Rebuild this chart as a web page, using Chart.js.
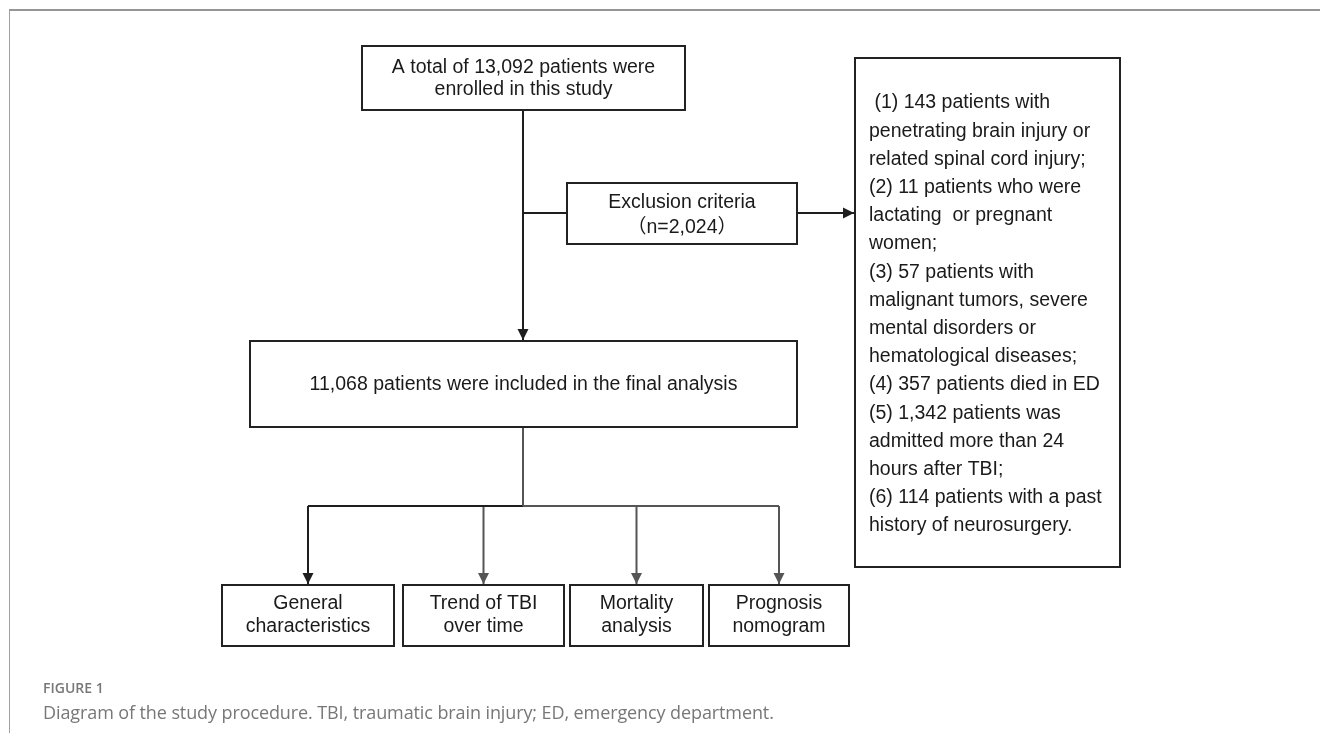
<!DOCTYPE html>
<html>
<head>
<meta charset="utf-8">
<script src="https://cdn.jsdelivr.net/npm/chart.js@4/dist/chart.umd.min.js"></script>
<style>
  body { margin: 0; background: #fff; }
  #wrap { position: relative; width: 1320px; height: 733px; overflow: hidden; }
  #frame { position: absolute; left: 9px; top: 9px; width: 1330px; height: 740px;
    border-top: 2px solid #969696; border-left: 1px solid #a0a0a0; }
  #chart { position: absolute; left: 0; top: 0; }
  .fig { position: absolute; left: 43px; top: 678px; font: 600 14px "Open Sans", sans-serif; color: #777; }
  .cap { position: absolute; left: 43px; top: 700px; font: 400 18px "Open Sans", sans-serif; color: #777; letter-spacing: -0.1px; }
</style>
</head>
<body>
<div id="wrap">
  <div id="frame"></div>
  <canvas id="chart" width="1320" height="733"></canvas>
  <div class="fig">FIGURE 1</div>
  <div class="cap">Diagram of the study procedure. TBI, traumatic brain injury; ED, emergency department.</div>
</div>
<script>
// flow chart content
const enrolledLines = ["A total of 13,092 patients were", "enrolled in this study"];
const exclusionLines = ["Exclusion criteria", "（n=2,024）"];
const reasonLines = [
  " (1) 143 patients with",
  "penetrating brain injury or",
  "related spinal cord injury;",
  "(2) 11 patients who were",
  "lactating  or pregnant",
  "women;",
  "(3) 57 patients with",
  "malignant tumors, severe",
  "mental disorders or",
  "hematological diseases;",
  "(4) 357 patients died in ED",
  "(5) 1,342 patients was",
  "admitted more than 24",
  "hours after TBI;",
  "(6) 114 patients with a past",
  "history of neurosurgery.",
];
const includedLines = ["11,068 patients were included in the final analysis"];
const outcomeLines = [
  ["General", "characteristics"],
  ["Trend of TBI", "over time"],
  ["Mortality", "analysis"],
  ["Prognosis", "nomogram"],
];

// layout (diagram units = pixels of the 1320x733 page)
const layout = {
  enrolled: { x0: 362, x1: 685, y0: 46, y1: 110, lineY: [68, 90] },
  exclusion: { x0: 567, x1: 797, y0: 183, y1: 244, lineY: [203, 228] },
  reasons: { x0: 855, x1: 1120, y0: 58, y1: 567, textX: 869, firstY: 103, step: 28.2 },
  included: { x0: 250, x1: 797, y0: 341, y1: 427, lineY: [385] },
  outcomes: { xs: [[222, 394], [403, 564], [570, 703], [709, 849]], y0: 585, y1: 646, lineY: [604, 627] },
};

const dark = "#1e1e1e";
const grey = "#555555";
const mid = 523;
const branchY = 506;

function seg(points, color, arrow) {
  return {
    data: points.map(p => ({ x: p[0], y: p[1] })),
    showLine: true,
    pointRadius: 0,
    borderWidth: 2,
    borderColor: color,
    arrow: arrow,
  };
}

const o = layout.outcomes;
const centers = o.xs.map(b => (b[0] + b[1]) / 2);

const datasets = [
  seg([[mid, layout.enrolled.y1], [mid, layout.included.y0 - 1]], dark, true),
  seg([[mid, 213], [layout.exclusion.x0, 213]], dark, false),
  seg([[layout.exclusion.x1, 213], [layout.reasons.x0 - 1, 213]], dark, true),
  seg([[mid, layout.included.y1], [mid, branchY]], grey, false),
  seg([[centers[0], branchY], [mid, branchY]], dark, false),
  seg([[mid, branchY], [centers[3], branchY]], grey, false),
];
centers.forEach((cx, i) => {
  datasets.push(seg([[cx, branchY], [cx, o.y0 - 1]], i === 0 ? dark : grey, true));
});

const flowPlugin = {
  id: "flow",
  afterDatasetsDraw(chart) {
    const ctx = chart.ctx;
    const sx = chart.scales.x, sy = chart.scales.y;
    const X = v => sx.getPixelForValue(v);
    const Y = v => sy.getPixelForValue(v);

    // arrow heads
    chart.data.datasets.forEach(ds => {
      if (!ds.arrow) return;
      const a = ds.data[ds.data.length - 2], b = ds.data[ds.data.length - 1];
      const ang = Math.atan2(Y(b.y) - Y(a.y), X(b.x) - X(a.x));
      ctx.save();
      ctx.translate(X(b.x), Y(b.y));
      ctx.rotate(ang);
      ctx.beginPath();
      ctx.moveTo(0, 0);
      ctx.lineTo(-11, -5.5);
      ctx.lineTo(-11, 5.5);
      ctx.closePath();
      ctx.fillStyle = ds.borderColor;
      ctx.fill();
      ctx.restore();
    });

    function box(x0, x1, y0, y1) {
      ctx.save();
      ctx.strokeStyle = "#222";
      ctx.lineWidth = 2;
      ctx.strokeRect(X(x0), Y(y0), X(x1) - X(x0), Y(y1) - Y(y0));
      ctx.restore();
    }
    function text(str, x, y, align) {
      ctx.save();
      ctx.font = '19.5px "Liberation Sans", Arial, "Noto Sans CJK SC", sans-serif';
      ctx.fillStyle = "#1a1a1a";
      ctx.textAlign = align;
      ctx.textBaseline = "middle";
      ctx.fillText(str, X(x), Y(y));
      ctx.restore();
    }

    const centred = (b, lines) => {
      box(b.x0, b.x1, b.y0, b.y1);
      lines.forEach((l, i) => text(l, (b.x0 + b.x1) / 2, b.lineY[i], "center"));
    };
    centred(layout.enrolled, enrolledLines);
    centred(layout.exclusion, exclusionLines);
    centred(layout.included, includedLines);

    const r = layout.reasons;
    box(r.x0, r.x1, r.y0, r.y1);
    reasonLines.forEach((l, i) => text(l, r.textX, r.firstY + i * r.step, "left"));

    o.xs.forEach((b, i) => {
      box(b[0], b[1], o.y0, o.y1);
      outcomeLines[i].forEach((l, j) => text(l, (b[0] + b[1]) / 2, o.lineY[j], "center"));
    });
  },
};

new Chart(document.getElementById("chart"), {
  type: "scatter",
  data: { datasets: datasets },
  options: {
    responsive: false,
    devicePixelRatio: 1,
    animation: false,
    layout: { padding: 0 },
    plugins: { legend: { display: false }, tooltip: { enabled: false } },
    scales: {
      x: { type: "linear", min: 0, max: 1320, display: false },
      y: { type: "linear", min: 0, max: 733, reverse: true, display: false },
    },
  },
  plugins: [flowPlugin],
});
</script>
</body>
</html>
